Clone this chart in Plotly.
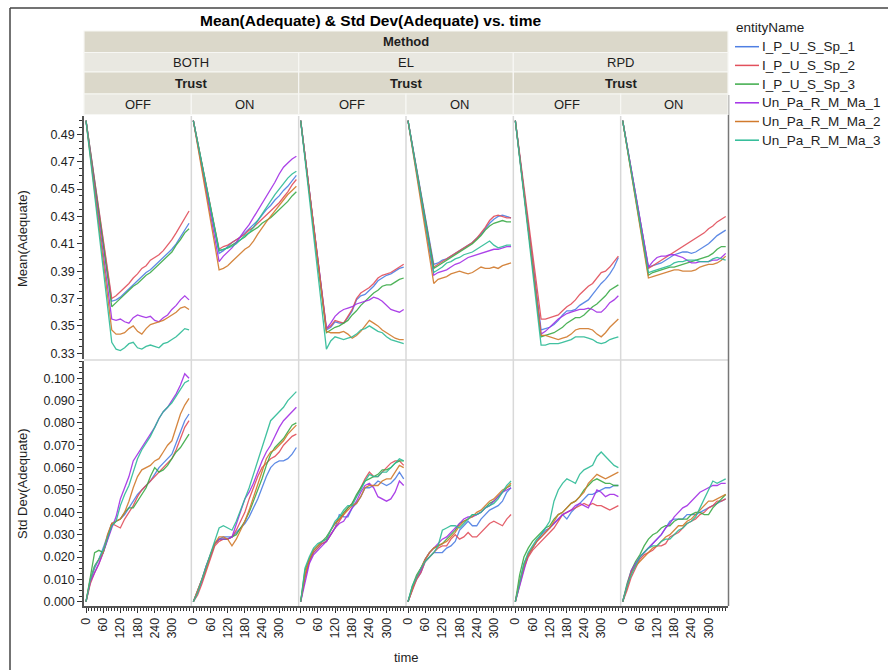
import plotly.graph_objects as go
from plotly.subplots import make_subplots

TIME = [0, 15, 30, 45, 60, 75, 90, 105, 120, 135, 150, 165, 180, 195, 210, 225,
        240, 255, 270, 285, 300, 315, 330, 345, 360]
SERIES = ["I_P_U_S_Sp_1", "I_P_U_S_Sp_2", "I_P_U_S_Sp_3",
          "Un_Pa_R_M_Ma_1", "Un_Pa_R_M_Ma_2", "Un_Pa_R_M_Ma_3"]
METHODS = ["BOTH", "EL", "RPD"]
TRUST = ["OFF", "ON"]
COLORS = ["#4f7fe3", "#e2505c", "#3cab48", "#a32fe6", "#d17a2c", "#2dbb96"]

MEAN_TICKS = [0.33, 0.35, 0.37, 0.39, 0.41, 0.43, 0.45, 0.47, 0.49]
STD_TICKS = [0.0, 0.01, 0.02, 0.03, 0.04, 0.05, 0.06, 0.07, 0.08, 0.09, 0.1]
TIME_TICKS = [0, 60, 120, 180, 240, 300]

# ---- Mean(Adequate) per panel, series order = SERIES ----
MEAN_BOTH_OFF = [
    [0.500, 0.478, 0.456, 0.434, 0.412, 0.390, 0.368, 0.369, 0.371, 0.374, 0.377, 0.380, 0.383, 0.386, 0.389, 0.391, 0.394, 0.397, 0.400, 0.403, 0.406, 0.410, 0.415, 0.421, 0.425],
    [0.500, 0.478, 0.456, 0.435, 0.413, 0.392, 0.370, 0.372, 0.375, 0.378, 0.381, 0.385, 0.388, 0.392, 0.394, 0.398, 0.400, 0.402, 0.405, 0.409, 0.413, 0.418, 0.423, 0.428, 0.434],
    [0.500, 0.477, 0.455, 0.432, 0.410, 0.387, 0.364, 0.367, 0.370, 0.373, 0.376, 0.379, 0.381, 0.384, 0.387, 0.389, 0.392, 0.395, 0.398, 0.401, 0.404, 0.409, 0.413, 0.418, 0.421],
    [0.500, 0.476, 0.452, 0.428, 0.404, 0.379, 0.355, 0.354, 0.355, 0.353, 0.352, 0.356, 0.358, 0.357, 0.356, 0.357, 0.354, 0.353, 0.356, 0.358, 0.362, 0.365, 0.369, 0.372, 0.369],
    [0.500, 0.475, 0.449, 0.424, 0.398, 0.373, 0.347, 0.344, 0.344, 0.345, 0.348, 0.350, 0.346, 0.344, 0.348, 0.351, 0.352, 0.353, 0.354, 0.356, 0.358, 0.360, 0.363, 0.364, 0.362],
    [0.500, 0.473, 0.446, 0.419, 0.392, 0.365, 0.338, 0.333, 0.332, 0.334, 0.337, 0.338, 0.334, 0.333, 0.335, 0.336, 0.335, 0.334, 0.337, 0.338, 0.340, 0.342, 0.345, 0.348, 0.347],
]
MEAN_BOTH_ON = [
    [0.500, 0.484, 0.468, 0.452, 0.435, 0.419, 0.403, 0.405, 0.408, 0.411, 0.413, 0.415, 0.418, 0.421, 0.424, 0.427, 0.431, 0.435, 0.438, 0.442, 0.445, 0.449, 0.452, 0.456, 0.460],
    [0.500, 0.484, 0.469, 0.453, 0.437, 0.421, 0.406, 0.408, 0.409, 0.411, 0.413, 0.415, 0.417, 0.420, 0.422, 0.425, 0.428, 0.431, 0.434, 0.437, 0.440, 0.444, 0.448, 0.453, 0.457],
    [0.500, 0.484, 0.468, 0.452, 0.437, 0.421, 0.405, 0.406, 0.407, 0.409, 0.411, 0.413, 0.415, 0.418, 0.420, 0.422, 0.425, 0.427, 0.429, 0.432, 0.435, 0.438, 0.441, 0.445, 0.448],
    [0.500, 0.483, 0.466, 0.448, 0.431, 0.414, 0.397, 0.401, 0.404, 0.407, 0.411, 0.416, 0.420, 0.424, 0.429, 0.434, 0.439, 0.444, 0.449, 0.455, 0.461, 0.466, 0.469, 0.472, 0.474],
    [0.500, 0.482, 0.464, 0.446, 0.427, 0.409, 0.391, 0.392, 0.394, 0.397, 0.400, 0.403, 0.406, 0.408, 0.412, 0.417, 0.422, 0.426, 0.430, 0.434, 0.438, 0.442, 0.446, 0.449, 0.452],
    [0.500, 0.484, 0.468, 0.453, 0.437, 0.421, 0.405, 0.406, 0.407, 0.408, 0.410, 0.413, 0.416, 0.418, 0.422, 0.427, 0.432, 0.436, 0.441, 0.446, 0.450, 0.454, 0.458, 0.461, 0.463],
]
MEAN_EL_OFF = [
    [0.500, 0.474, 0.449, 0.423, 0.398, 0.372, 0.347, 0.349, 0.353, 0.352, 0.352, 0.356, 0.361, 0.369, 0.372, 0.373, 0.376, 0.379, 0.383, 0.385, 0.387, 0.388, 0.390, 0.392, 0.393],
    [0.500, 0.475, 0.449, 0.424, 0.399, 0.373, 0.348, 0.350, 0.354, 0.353, 0.352, 0.357, 0.362, 0.370, 0.374, 0.376, 0.378, 0.381, 0.385, 0.387, 0.388, 0.389, 0.391, 0.393, 0.395],
    [0.500, 0.474, 0.448, 0.422, 0.397, 0.371, 0.345, 0.347, 0.349, 0.350, 0.352, 0.354, 0.358, 0.361, 0.365, 0.368, 0.371, 0.374, 0.376, 0.379, 0.380, 0.380, 0.382, 0.384, 0.385],
    [0.500, 0.475, 0.449, 0.424, 0.399, 0.373, 0.348, 0.352, 0.357, 0.360, 0.362, 0.363, 0.364, 0.366, 0.367, 0.368, 0.369, 0.371, 0.370, 0.368, 0.365, 0.362, 0.361, 0.360, 0.362],
    [0.500, 0.474, 0.449, 0.423, 0.397, 0.372, 0.346, 0.345, 0.345, 0.345, 0.346, 0.344, 0.341, 0.343, 0.346, 0.350, 0.354, 0.352, 0.350, 0.347, 0.345, 0.343, 0.341, 0.340, 0.340],
    [0.500, 0.472, 0.444, 0.416, 0.388, 0.361, 0.333, 0.339, 0.342, 0.341, 0.340, 0.341, 0.342, 0.344, 0.347, 0.348, 0.350, 0.348, 0.346, 0.345, 0.342, 0.340, 0.339, 0.338, 0.337],
]
MEAN_EL_ON = [
    [0.500, 0.482, 0.465, 0.447, 0.430, 0.412, 0.395, 0.396, 0.398, 0.399, 0.401, 0.403, 0.405, 0.407, 0.409, 0.411, 0.414, 0.417, 0.421, 0.425, 0.428, 0.430, 0.431, 0.430, 0.429],
    [0.500, 0.482, 0.464, 0.447, 0.429, 0.411, 0.393, 0.395, 0.397, 0.399, 0.401, 0.403, 0.405, 0.407, 0.409, 0.411, 0.414, 0.418, 0.422, 0.427, 0.430, 0.431, 0.430, 0.429, 0.429],
    [0.500, 0.482, 0.464, 0.446, 0.428, 0.410, 0.392, 0.394, 0.396, 0.398, 0.400, 0.402, 0.404, 0.406, 0.408, 0.410, 0.413, 0.416, 0.420, 0.423, 0.425, 0.426, 0.427, 0.426, 0.426],
    [0.500, 0.481, 0.462, 0.444, 0.425, 0.406, 0.387, 0.389, 0.390, 0.391, 0.393, 0.395, 0.396, 0.398, 0.400, 0.401, 0.402, 0.403, 0.404, 0.405, 0.406, 0.406, 0.407, 0.408, 0.408],
    [0.500, 0.480, 0.460, 0.441, 0.421, 0.401, 0.381, 0.384, 0.385, 0.386, 0.388, 0.389, 0.390, 0.389, 0.388, 0.389, 0.391, 0.393, 0.392, 0.392, 0.393, 0.392, 0.394, 0.395, 0.396],
    [0.500, 0.481, 0.463, 0.444, 0.426, 0.407, 0.389, 0.391, 0.393, 0.396, 0.397, 0.399, 0.400, 0.402, 0.403, 0.404, 0.406, 0.408, 0.410, 0.412, 0.409, 0.407, 0.408, 0.409, 0.409],
]
MEAN_RPD_OFF = [
    [0.500, 0.475, 0.449, 0.424, 0.398, 0.373, 0.347, 0.348, 0.349, 0.351, 0.354, 0.358, 0.361, 0.361, 0.362, 0.365, 0.367, 0.369, 0.373, 0.377, 0.381, 0.384, 0.388, 0.393, 0.400],
    [0.500, 0.476, 0.452, 0.427, 0.403, 0.379, 0.355, 0.355, 0.356, 0.357, 0.358, 0.361, 0.364, 0.366, 0.369, 0.373, 0.376, 0.379, 0.381, 0.385, 0.389, 0.390, 0.393, 0.397, 0.401],
    [0.500, 0.474, 0.447, 0.421, 0.395, 0.368, 0.342, 0.343, 0.344, 0.345, 0.347, 0.349, 0.352, 0.354, 0.356, 0.356, 0.358, 0.361, 0.364, 0.366, 0.369, 0.372, 0.376, 0.378, 0.380],
    [0.500, 0.474, 0.448, 0.422, 0.396, 0.370, 0.344, 0.346, 0.349, 0.352, 0.355, 0.357, 0.359, 0.360, 0.361, 0.362, 0.362, 0.363, 0.362, 0.360, 0.360, 0.363, 0.367, 0.369, 0.372],
    [0.500, 0.474, 0.448, 0.422, 0.395, 0.369, 0.343, 0.343, 0.342, 0.341, 0.340, 0.341, 0.342, 0.344, 0.347, 0.348, 0.348, 0.348, 0.347, 0.344, 0.342, 0.345, 0.349, 0.352, 0.355],
    [0.500, 0.473, 0.445, 0.418, 0.391, 0.363, 0.336, 0.336, 0.337, 0.337, 0.337, 0.338, 0.339, 0.340, 0.342, 0.342, 0.342, 0.341, 0.340, 0.338, 0.337, 0.338, 0.340, 0.341, 0.342],
]
MEAN_RPD_ON = [
    [0.500, 0.482, 0.464, 0.447, 0.429, 0.411, 0.393, 0.394, 0.395, 0.396, 0.398, 0.400, 0.402, 0.403, 0.404, 0.404, 0.403, 0.404, 0.406, 0.408, 0.410, 0.413, 0.416, 0.418, 0.420],
    [0.500, 0.482, 0.464, 0.446, 0.428, 0.410, 0.392, 0.394, 0.396, 0.398, 0.400, 0.402, 0.404, 0.406, 0.408, 0.410, 0.412, 0.414, 0.416, 0.418, 0.421, 0.423, 0.426, 0.428, 0.430],
    [0.500, 0.481, 0.462, 0.444, 0.425, 0.406, 0.387, 0.389, 0.390, 0.391, 0.392, 0.393, 0.393, 0.394, 0.395, 0.396, 0.397, 0.398, 0.399, 0.400, 0.401, 0.403, 0.406, 0.408, 0.408],
    [0.500, 0.482, 0.464, 0.447, 0.429, 0.411, 0.393, 0.397, 0.400, 0.401, 0.401, 0.402, 0.402, 0.401, 0.400, 0.398, 0.396, 0.396, 0.397, 0.397, 0.397, 0.398, 0.398, 0.400, 0.403],
    [0.500, 0.481, 0.462, 0.442, 0.423, 0.404, 0.385, 0.386, 0.387, 0.388, 0.389, 0.390, 0.391, 0.391, 0.390, 0.390, 0.390, 0.391, 0.393, 0.394, 0.395, 0.395, 0.396, 0.398, 0.401],
    [0.500, 0.481, 0.463, 0.444, 0.426, 0.407, 0.389, 0.390, 0.391, 0.392, 0.393, 0.394, 0.396, 0.397, 0.397, 0.398, 0.398, 0.398, 0.397, 0.397, 0.397, 0.399, 0.400, 0.399, 0.398],
]

# ---- Std Dev(Adequate) per panel ----
STD_BOTH_OFF = [
    [0, 0.009, 0.015, 0.019, 0.024, 0.030, 0.035, 0.036, 0.037, 0.039, 0.042, 0.045, 0.048, 0.050, 0.052, 0.054, 0.057, 0.060, 0.062, 0.064, 0.066, 0.071, 0.076, 0.081, 0.084],
    [0, 0.008, 0.013, 0.017, 0.022, 0.029, 0.035, 0.034, 0.033, 0.037, 0.040, 0.043, 0.047, 0.050, 0.052, 0.054, 0.056, 0.058, 0.060, 0.062, 0.064, 0.068, 0.073, 0.078, 0.081],
    [0, 0.012, 0.022, 0.023, 0.022, 0.028, 0.034, 0.036, 0.037, 0.040, 0.042, 0.042, 0.045, 0.048, 0.051, 0.056, 0.060, 0.058, 0.059, 0.061, 0.064, 0.067, 0.069, 0.072, 0.075],
    [0, 0.009, 0.013, 0.017, 0.022, 0.028, 0.033, 0.038, 0.046, 0.051, 0.056, 0.063, 0.066, 0.069, 0.072, 0.075, 0.078, 0.082, 0.085, 0.087, 0.090, 0.093, 0.097, 0.102, 0.100],
    [0, 0.010, 0.016, 0.019, 0.022, 0.030, 0.035, 0.036, 0.037, 0.040, 0.045, 0.051, 0.056, 0.059, 0.060, 0.061, 0.063, 0.064, 0.067, 0.070, 0.072, 0.078, 0.084, 0.088, 0.091],
    [0, 0.010, 0.016, 0.019, 0.023, 0.029, 0.034, 0.036, 0.043, 0.048, 0.052, 0.058, 0.064, 0.068, 0.071, 0.074, 0.078, 0.082, 0.085, 0.087, 0.089, 0.092, 0.095, 0.098, 0.099],
]
STD_BOTH_ON = [
    [0, 0.004, 0.009, 0.015, 0.021, 0.026, 0.028, 0.029, 0.029, 0.029, 0.031, 0.033, 0.035, 0.038, 0.042, 0.046, 0.051, 0.056, 0.060, 0.062, 0.063, 0.063, 0.064, 0.066, 0.069],
    [0, 0.003, 0.008, 0.014, 0.020, 0.025, 0.027, 0.028, 0.028, 0.029, 0.032, 0.036, 0.040, 0.046, 0.051, 0.056, 0.060, 0.062, 0.064, 0.065, 0.067, 0.070, 0.072, 0.074, 0.075],
    [0, 0.005, 0.010, 0.016, 0.021, 0.026, 0.028, 0.028, 0.028, 0.029, 0.030, 0.033, 0.036, 0.040, 0.045, 0.050, 0.055, 0.061, 0.066, 0.069, 0.071, 0.073, 0.076, 0.079, 0.080],
    [0, 0.005, 0.010, 0.016, 0.021, 0.026, 0.028, 0.028, 0.028, 0.029, 0.035, 0.040, 0.046, 0.049, 0.053, 0.058, 0.063, 0.067, 0.070, 0.074, 0.078, 0.081, 0.083, 0.085, 0.087],
    [0, 0.005, 0.010, 0.015, 0.021, 0.026, 0.029, 0.029, 0.028, 0.025, 0.028, 0.032, 0.036, 0.041, 0.047, 0.053, 0.059, 0.064, 0.067, 0.068, 0.070, 0.072, 0.075, 0.077, 0.079],
    [0, 0.004, 0.010, 0.016, 0.022, 0.028, 0.033, 0.034, 0.033, 0.032, 0.036, 0.041, 0.046, 0.051, 0.057, 0.063, 0.068, 0.075, 0.081, 0.083, 0.085, 0.087, 0.090, 0.092, 0.094],
]
STD_EL_OFF = [
    [0, 0.011, 0.018, 0.022, 0.024, 0.026, 0.027, 0.030, 0.033, 0.039, 0.038, 0.038, 0.042, 0.044, 0.047, 0.051, 0.051, 0.052, 0.054, 0.053, 0.052, 0.053, 0.055, 0.058, 0.055],
    [0, 0.011, 0.018, 0.022, 0.024, 0.026, 0.027, 0.030, 0.033, 0.036, 0.039, 0.042, 0.044, 0.047, 0.051, 0.055, 0.058, 0.056, 0.056, 0.058, 0.060, 0.062, 0.063, 0.063, 0.061],
    [0, 0.014, 0.019, 0.023, 0.025, 0.027, 0.029, 0.032, 0.035, 0.037, 0.040, 0.042, 0.044, 0.048, 0.051, 0.054, 0.055, 0.056, 0.057, 0.059, 0.059, 0.060, 0.062, 0.063, 0.063],
    [0, 0.009, 0.017, 0.021, 0.023, 0.025, 0.027, 0.030, 0.033, 0.035, 0.036, 0.039, 0.042, 0.045, 0.049, 0.052, 0.053, 0.051, 0.047, 0.046, 0.045, 0.046, 0.049, 0.054, 0.052],
    [0, 0.012, 0.019, 0.023, 0.025, 0.027, 0.028, 0.032, 0.035, 0.037, 0.039, 0.041, 0.043, 0.044, 0.047, 0.051, 0.052, 0.052, 0.052, 0.054, 0.055, 0.055, 0.058, 0.061, 0.060],
    [0, 0.015, 0.020, 0.024, 0.026, 0.027, 0.028, 0.032, 0.036, 0.038, 0.041, 0.043, 0.043, 0.047, 0.050, 0.054, 0.057, 0.056, 0.056, 0.058, 0.058, 0.060, 0.062, 0.064, 0.063],
]
STD_EL_ON = [
    [0, 0.006, 0.010, 0.013, 0.018, 0.020, 0.022, 0.022, 0.022, 0.024, 0.025, 0.027, 0.032, 0.034, 0.036, 0.034, 0.034, 0.037, 0.039, 0.041, 0.042, 0.043, 0.045, 0.049, 0.051],
    [0, 0.005, 0.010, 0.013, 0.018, 0.020, 0.022, 0.024, 0.025, 0.025, 0.028, 0.030, 0.028, 0.029, 0.031, 0.029, 0.029, 0.031, 0.033, 0.035, 0.036, 0.035, 0.034, 0.037, 0.039],
    [0, 0.007, 0.012, 0.015, 0.019, 0.022, 0.024, 0.025, 0.026, 0.028, 0.030, 0.032, 0.035, 0.036, 0.037, 0.039, 0.039, 0.040, 0.042, 0.044, 0.045, 0.047, 0.049, 0.051, 0.052],
    [0, 0.006, 0.011, 0.014, 0.019, 0.022, 0.024, 0.026, 0.028, 0.029, 0.031, 0.033, 0.035, 0.037, 0.038, 0.038, 0.039, 0.040, 0.042, 0.043, 0.045, 0.047, 0.049, 0.050, 0.051],
    [0, 0.006, 0.011, 0.015, 0.019, 0.022, 0.024, 0.025, 0.026, 0.027, 0.029, 0.031, 0.034, 0.036, 0.037, 0.038, 0.040, 0.041, 0.043, 0.045, 0.046, 0.048, 0.050, 0.051, 0.053],
    [0, 0.007, 0.011, 0.015, 0.018, 0.020, 0.022, 0.025, 0.032, 0.033, 0.034, 0.034, 0.033, 0.035, 0.037, 0.039, 0.039, 0.040, 0.042, 0.043, 0.044, 0.046, 0.049, 0.052, 0.054],
]
STD_RPD_OFF = [
    [0, 0.009, 0.017, 0.021, 0.024, 0.027, 0.030, 0.032, 0.033, 0.035, 0.037, 0.039, 0.037, 0.040, 0.042, 0.044, 0.046, 0.048, 0.048, 0.049, 0.050, 0.051, 0.051, 0.052, 0.052],
    [0, 0.008, 0.015, 0.020, 0.023, 0.025, 0.027, 0.029, 0.031, 0.033, 0.036, 0.039, 0.040, 0.041, 0.042, 0.043, 0.044, 0.043, 0.044, 0.043, 0.043, 0.042, 0.041, 0.042, 0.043],
    [0, 0.012, 0.020, 0.024, 0.027, 0.029, 0.031, 0.033, 0.034, 0.037, 0.039, 0.040, 0.042, 0.044, 0.045, 0.047, 0.050, 0.052, 0.054, 0.055, 0.054, 0.053, 0.053, 0.052, 0.052],
    [0, 0.007, 0.014, 0.021, 0.024, 0.027, 0.029, 0.031, 0.033, 0.035, 0.037, 0.039, 0.040, 0.041, 0.043, 0.044, 0.043, 0.042, 0.046, 0.050, 0.049, 0.047, 0.048, 0.048, 0.047],
    [0, 0.009, 0.016, 0.021, 0.024, 0.027, 0.029, 0.031, 0.033, 0.036, 0.039, 0.040, 0.042, 0.044, 0.045, 0.047, 0.049, 0.053, 0.055, 0.057, 0.056, 0.055, 0.056, 0.057, 0.058],
    [0, 0.009, 0.017, 0.022, 0.025, 0.028, 0.030, 0.033, 0.036, 0.045, 0.050, 0.053, 0.055, 0.054, 0.053, 0.057, 0.059, 0.060, 0.061, 0.065, 0.067, 0.065, 0.063, 0.061, 0.060],
]
STD_RPD_ON = [
    [0, 0.007, 0.013, 0.017, 0.020, 0.022, 0.024, 0.026, 0.028, 0.030, 0.033, 0.036, 0.037, 0.037, 0.037, 0.039, 0.039, 0.039, 0.040, 0.041, 0.042, 0.043, 0.044, 0.045, 0.046],
    [0, 0.005, 0.011, 0.015, 0.019, 0.021, 0.022, 0.023, 0.025, 0.025, 0.026, 0.029, 0.030, 0.031, 0.033, 0.035, 0.036, 0.037, 0.039, 0.040, 0.042, 0.043, 0.045, 0.045, 0.046],
    [0, 0.008, 0.014, 0.018, 0.021, 0.025, 0.028, 0.030, 0.031, 0.033, 0.034, 0.034, 0.036, 0.037, 0.037, 0.037, 0.039, 0.040, 0.040, 0.039, 0.039, 0.042, 0.044, 0.046, 0.048],
    [0, 0.007, 0.014, 0.017, 0.020, 0.022, 0.024, 0.026, 0.028, 0.030, 0.033, 0.035, 0.038, 0.040, 0.042, 0.043, 0.045, 0.047, 0.049, 0.050, 0.051, 0.052, 0.052, 0.053, 0.053],
    [0, 0.007, 0.013, 0.016, 0.018, 0.020, 0.022, 0.024, 0.025, 0.027, 0.029, 0.030, 0.032, 0.034, 0.034, 0.036, 0.037, 0.039, 0.041, 0.043, 0.045, 0.045, 0.046, 0.047, 0.048],
    [0, 0.007, 0.012, 0.016, 0.020, 0.022, 0.024, 0.025, 0.025, 0.027, 0.028, 0.028, 0.030, 0.032, 0.033, 0.035, 0.036, 0.038, 0.042, 0.046, 0.050, 0.054, 0.053, 0.054, 0.055],
]

MEAN_PANELS = [MEAN_BOTH_OFF, MEAN_BOTH_ON, MEAN_EL_OFF, MEAN_EL_ON, MEAN_RPD_OFF, MEAN_RPD_ON]
STD_PANELS = [STD_BOTH_OFF, STD_BOTH_ON, STD_EL_OFF, STD_EL_ON, STD_RPD_OFF, STD_RPD_ON]

# ---------------- layout geometry (pixels) ----------------
W, H = 888, 670
L, R, T, B = 84, 728, 116, 606
PW, PH = R - L, B - T


def X(px):
    return (px - L) / PW


def Y(py):
    return (B - py) / PH


FONT = "Arial, 'Liberation Sans', Helvetica, sans-serif"
DARK = "#dbd8ca"
LIGHT = "#e9e8e1"
TXT = "#1e1e1e"

fig = make_subplots(rows=2, cols=6, horizontal_spacing=0, vertical_spacing=0)

for c in range(6):
    for s in range(6):
        fig.add_trace(go.Scatter(
            x=TIME, y=MEAN_PANELS[c][s], mode="lines", name=SERIES[s],
            legendgroup=SERIES[s], showlegend=False,
            line=dict(color=COLORS[s], width=1.3), opacity=0.9,
            hoverinfo="skip"), row=1, col=c + 1)
        fig.add_trace(go.Scatter(
            x=TIME, y=STD_PANELS[c][s], mode="lines", name=SERIES[s],
            legendgroup=SERIES[s], showlegend=False,
            line=dict(color=COLORS[s], width=1.3), opacity=0.9,
            hoverinfo="skip"), row=2, col=c + 1)

XR = [-7, 368]
MEAN_RANGE = [0.3258, 0.5034]
STD_RANGE = [-0.0019, 0.1077]

for c in range(6):
    dom = [c / 6, (c + 1) / 6]
    fig.update_xaxes(row=1, col=c + 1, domain=dom, range=XR, showticklabels=False,
                     ticks="", showgrid=False, zeroline=False, showline=False)
    fig.update_xaxes(row=2, col=c + 1, domain=dom, range=XR, tickvals=TIME_TICKS,
                     ticktext=[str(v) for v in TIME_TICKS], tickangle=-90,
                     ticks="outside", ticklen=5, tickwidth=1, tickcolor="#333",
                     minor=dict(dtick=10, tick0=0, ticks="outside", ticklen=3,
                                tickcolor="#333", showgrid=False),
                     showgrid=False, zeroline=False, showline=True,
                     linecolor="#555", linewidth=1.5,
                     tickfont=dict(family=FONT, size=12.5, color=TXT))
    common_y = dict(showgrid=False, zeroline=False)
    if c == 0:
        fig.update_yaxes(row=1, col=1, domain=[Y(359), 1.0], range=MEAN_RANGE,
                         tickvals=MEAN_TICKS, ticktext=["%.2f" % v for v in MEAN_TICKS],
                         ticks="outside", ticklen=5, tickcolor="#333",
                         minor=dict(dtick=0.005, tick0=0.33, ticks="outside", ticklen=3,
                                    tickcolor="#333", showgrid=False),
                         showline=True, linecolor="#555", linewidth=1.5,
                         tickfont=dict(family=FONT, size=12.5, color=TXT), **common_y)
        fig.update_yaxes(row=2, col=1, domain=[0.0, Y(361)], range=STD_RANGE,
                         tickvals=STD_TICKS, ticktext=["%.3f" % v for v in STD_TICKS],
                         ticks="outside", ticklen=5, tickcolor="#333",
                         minor=dict(dtick=0.0025, tick0=0, ticks="outside", ticklen=3,
                                    tickcolor="#333", showgrid=False),
                         showline=True, linecolor="#555", linewidth=1.5,
                         tickfont=dict(family=FONT, size=12.5, color=TXT), **common_y)
    else:
        fig.update_yaxes(row=1, col=c + 1, domain=[Y(359), 1.0], range=MEAN_RANGE,
                         showticklabels=False, ticks="", showline=False, **common_y)
        fig.update_yaxes(row=2, col=c + 1, domain=[0.0, Y(361)], range=STD_RANGE,
                         showticklabels=False, ticks="", showline=False, **common_y)

shapes = []
# panel separators
for k in range(1, 6):
    xp = X(L + PW * k / 6)
    shapes.append(dict(type="line", xref="paper", yref="paper", x0=xp, x1=xp,
                       y0=0, y1=1, line=dict(color="#d9d9d9", width=1.5), layer="below"))
shapes.append(dict(type="line", xref="paper", yref="paper", x0=0, x1=1,
                   y0=Y(360), y1=Y(360), line=dict(color="#d9d9d9", width=1.5), layer="below"))
# right border of the plot frame
shapes.append(dict(type="line", xref="paper", yref="paper", x0=X(728.5), x1=X(728.5),
                   y0=Y(95), y1=Y(606), line=dict(color="#777", width=1.5)))
# outer window frame
shapes.append(dict(type="line", xref="paper", yref="paper", x0=X(10), x1=X(888),
                   y0=Y(8), y1=Y(8), line=dict(color="#444", width=1.5)))
shapes.append(dict(type="line", xref="paper", yref="paper", x0=X(10), x1=X(10),
                   y0=Y(8), y1=Y(670), line=dict(color="#444", width=1.5)))

annotations = []


def cell(x0, x1, y0, y1, fill, text, bold):
    shapes.append(dict(type="rect", xref="paper", yref="paper", x0=X(x0), x1=X(x1),
                       y0=Y(y1), y1=Y(y0), fillcolor=fill,
                       line=dict(color="#f7f7f4", width=1.2)))
    annotations.append(dict(xref="paper", yref="paper", x=X((x0 + x1) / 2), y=Y((y0 + y1) / 2),
                            text=("<b>%s</b>" % text) if bold else text, showarrow=False,
                            xanchor="center", yanchor="middle",
                            font=dict(family=FONT, size=13, color=TXT)))


cell(L, R, 31, 52.5, DARK, "Method", True)
for m in range(3):
    x0 = L + PW * m / 3
    x1 = L + PW * (m + 1) / 3
    cell(x0, x1, 52.5, 72, LIGHT, METHODS[m], False)
    cell(x0, x1, 72, 94, DARK, "Trust", True)
    for t in range(2):
        cell(L + PW * (2 * m + t) / 6, L + PW * (2 * m + t + 1) / 6, 94, 114.5,
             LIGHT, TRUST[t], False)

annotations.append(dict(xref="paper", yref="paper", x=X(370), y=Y(21),
                        text="<b>Mean(Adequate) & Std Dev(Adequate) vs. time</b>",
                        showarrow=False, xanchor="center", yanchor="middle",
                        font=dict(family=FONT, size=15.5, color="#000")))
annotations.append(dict(xref="paper", yref="paper", x=X(22), y=Y(239),
                        text="Mean(Adequate)", textangle=-90, showarrow=False,
                        xanchor="center", yanchor="middle",
                        font=dict(family=FONT, size=13, color=TXT)))
annotations.append(dict(xref="paper", yref="paper", x=X(22), y=Y(484),
                        text="Std Dev(Adequate)", textangle=-90, showarrow=False,
                        xanchor="center", yanchor="middle",
                        font=dict(family=FONT, size=13, color=TXT)))
annotations.append(dict(xref="paper", yref="paper", x=X(406), y=Y(657),
                        text="time", showarrow=False,
                        xanchor="center", yanchor="middle",
                        font=dict(family=FONT, size=13, color=TXT)))

# legend (drawn by hand so spacing matches)
annotations.append(dict(xref="paper", yref="paper", x=X(734), y=Y(27),
                        text="entityName", showarrow=False,
                        xanchor="left", yanchor="middle",
                        font=dict(family=FONT, size=13.5, color=TXT)))
for s in range(6):
    yy = 46.7 + 18.7 * s
    shapes.append(dict(type="line", xref="paper", yref="paper", x0=X(735), x1=X(759),
                       y0=Y(yy), y1=Y(yy), line=dict(color=COLORS[s], width=1.5)))
    annotations.append(dict(xref="paper", yref="paper", x=X(760), y=Y(yy),
                            text=SERIES[s], showarrow=False,
                            xanchor="left", yanchor="middle",
                            font=dict(family=FONT, size=13.5, color=TXT)))

fig.update_layout(
    width=W, height=H,
    margin=dict(l=L, r=W - R, t=T, b=H - B, pad=0, autoexpand=False),
    paper_bgcolor="white", plot_bgcolor="white",
    shapes=shapes, annotations=annotations,
    showlegend=False,
    font=dict(family=FONT, color=TXT),
)

fig.write_html("out.html")
